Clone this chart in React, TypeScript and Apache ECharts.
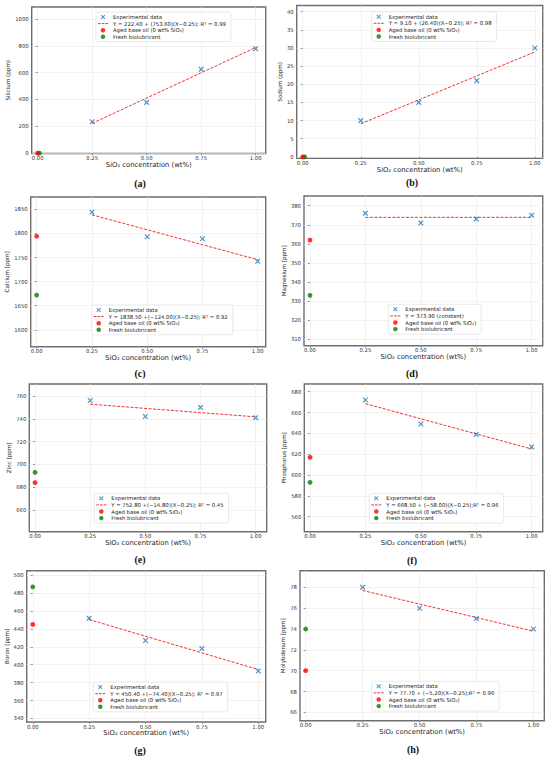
import React, { useEffect, useRef } from "react";
import * as echarts from "echarts";

// ---------- data ----------
const xExp = [0.25, 0.5, 0.75, 1.0];
const xFit = [0.25, 1.0];
const xTicks = [0, 0.25, 0.5, 0.75, 1.0];

const siliciumExp = [234, 378, 625, 779];
const sodiumExp = [10, 15, 21, 30];
const calciumExp = [1844, 1793, 1789, 1742];
const magnesiumExp = [376, 371, 373, 375];
const zincExp = [756, 742, 750, 741];
const phosphorusExp = [672, 649, 639, 627];
const boronExp = [452, 427, 418, 393];
const molybdenumExp = [78, 76, 75, 74];

const siliciumFit = [222.4, 787.6];
const sodiumFit = [9.1, 28.9];
const calciumFit = [1838.5, 1745.5];
const magnesiumFit = [373.9, 373.9];
const zincFit = [752.8, 741.7];
const phosphorusFit = [668.5, 625.0];
const boronFit = [450.4, 394.6];
const molybdenumFit = [77.7, 73.8];

// aged base oil / fresh biolubricant (Si, Na, Ca, Mg, Zn, P, B, Mo)
const agedValues = [0, 0, 1794, 362, 684, 617, 445, 70];
const freshValues = [0, 0, 1672, 333, 693, 593, 487, 74];
const agedX = [0, 0, 0, 0, 0, 0, 0, 0];
const freshX = [0.008, 0.008, 0, 0, 0, 0, 0, 0];

const yNames = [
  "Silicium (ppm)",
  "Sodium (ppm)",
  "Calcium [ppm]",
  "Magnesium [ppm]",
  "Zinc [ppm]",
  "Phosphorus [ppm]",
  "Boron [ppm]",
  "Molybdenum [ppm]",
];
const fitLabels = [
  "Y = 222.40 + (753.60)(X\u22120.25); R\u00b2 = 0.99",
  "Y = 9.10 + (26.40)(X\u22120.25); R\u00b2 = 0.98",
  "Y = 1838.50 +(\u2212124.00)(X\u22120.25); R\u00b2 = 0.92",
  "Y = 373.90 (constant)",
  "Y = 752.80 +(\u221214.80)(X\u22120.25); R\u00b2 = 0.45",
  "Y = 668.50 + (\u221258.00)(X\u22120.25);R\u00b2 = 0.96",
  "Y = 450.40 +(\u221274.40)(X\u22120.25); R\u00b2 = 0.97",
  "Y = 77.70 + (\u22125.20)(X\u22120.25);R\u00b2 = 0.96",
];
const yTickLists = [
  [0, 200, 400, 600, 800, 1000],
  [0, 5, 10, 15, 20, 25, 30, 35, 40],
  [1600, 1650, 1700, 1750, 1800, 1850],
  [310, 320, 330, 340, 350, 360, 370, 380],
  [660, 680, 700, 720, 740, 760],
  [560, 580, 600, 620, 640, 660, 680],
  [340, 360, 380, 400, 420, 440, 460, 480, 500],
  [66, 68, 70, 72, 74, 76, 78],
];
const captions = ["(a)", "(b)", "(c)", "(d)", "(e)", "(f)", "(g)", "(h)"];
const expSets = [siliciumExp, sodiumExp, calciumExp, magnesiumExp, zincExp, phosphorusExp, boronExp, molybdenumExp];
const fitSets = [siliciumFit, sodiumFit, calciumFit, magnesiumFit, zincFit, phosphorusFit, boronFit, molybdenumFit];

const EXP_NAME = "Experimental data";
const AGED_NAME = "Aged base oil (0 wt% SiO\u2082)";
const FRESH_NAME = "Fresh biolubricant";
const X_NAME = "SiO\u2082 concentration (wt%)";

// ---------- layout ----------
// [left, top, right, bottom, xMin, xMax, yMin, yMax, legendLeft, legendTop, capX, capY, xNameGap, yNameGap]
const layouts = [
  [31.7, 7, 265.7, 153.5, -0.0275, 1.046, -3, 1090, 96, 12, 140, 183, 7.2, 17],
  [296.7, 5.5, 542.7, 158.3, -0.026, 1.034, -0.4, 41.7, 371.7, 11.7, 412, 182.7, 6.4, 11.6],
  [30.7, 197, 265.7, 346.7, -0.027, 1.036, 1565, 1875.5, 91.7, 305, 140, 373, 5.4, 17.9],
  [304, 196, 542.7, 345.7, -0.027, 1.05, 306.6, 385.1, 388.3, 304.3, 412, 373, 6.4, 14.5],
  [29.3, 384, 266.7, 531.7, -0.026, 1.05, 641, 770.5, 94.3, 493.3, 140, 559.3, 8, 14.8],
  [304.3, 384, 542.7, 531.7, -0.026, 1.05, 545.6, 687.4, 369.3, 493.3, 412, 560, 8, 14.8],
  [26.7, 570.7, 265.7, 722, -0.027, 1.033, 336, 505, 93.3, 682, 140, 750.7, 6.7, 14.9],
  [300, 570.7, 544.3, 720.7, -0.025, 1.048, 65.2, 79.6, 371.7, 681.3, 413, 749.7, 8, 11.5],
];

const X_PATH =
  "path://M1.5,0L5,3.5L8.5,0L10,1.5L6.5,5L10,8.5L8.5,10L5,6.5L1.5,10L0,8.5L3.5,5L0,1.5Z";
const FONT = "DejaVu Sans";
const FIT_COLOR = "#f43030";

function buildOption() {
  const grid: any[] = [];
  const xAxis: any[] = [];
  const yAxis: any[] = [];
  const series: any[] = [];
  const legend: any[] = [];
  const graphic: any[] = [];

  layouts.forEach((L, i) => {
    const [l, t, r, b, xMin, xMax, yMin, yMax, lgL, lgT, cx, cy, xGap, yGap] = L;
    grid.push({
      left: l,
      top: t,
      width: r - l,
      height: b - t,
      show: true,
      borderColor: "#6e6e6e",
      borderWidth: 1.4,
      backgroundColor: "#ffffff",
      containLabel: false,
      outerBoundsMode: "none",
    });
    xAxis.push({
      gridIndex: i,
      type: "value",
      min: xMin,
      max: xMax,
      name: X_NAME,
      nameLocation: "middle",
      nameGap: xGap,
      nameTextStyle: { fontSize: 6.8, color: "#222", fontFamily: FONT },
      axisLine: { show: false },
      axisTick: { show: true, length: 2, customValues: xTicks, lineStyle: { color: "#555", width: 0.6 } },
      axisLabel: {
        customValues: xTicks,
        formatter: (v: number) => v.toFixed(2),
        fontSize: 5.3,
        color: "#333",
        margin: 2,
        fontFamily: FONT,
      },
      splitLine: { show: true, lineStyle: { color: "#e9e9e9", width: 0.6 } },
    });
    yAxis.push({
      gridIndex: i,
      type: "value",
      min: yMin,
      max: yMax,
      name: yNames[i],
      nameLocation: "middle",
      nameRotate: 90,
      nameGap: yGap,
      nameTextStyle: { fontSize: 5.6, color: "#222", fontFamily: FONT },
      axisLine: { show: false },
      axisTick: { show: true, length: 2, customValues: yTickLists[i], lineStyle: { color: "#555", width: 0.6 } },
      axisLabel: {
        customValues: yTickLists[i],
        formatter: (v: number) => String(v),
        fontSize: 5.3,
        color: "#333",
        margin: 3,
        fontFamily: FONT,
      },
      splitLine: { show: true, lineStyle: { color: "#e9e9e9", width: 0.6 } },
    });

    series.push({
      type: "scatter",
      name: EXP_NAME,
      xAxisIndex: i,
      yAxisIndex: i,
      data: xExp.map((x, j) => [x, expSets[i][j]]),
      symbol: X_PATH,
      symbolSize: 5.5,
      itemStyle: { color: "#1f77b4" },
      clip: false,
      z: 3,
    });
    series.push({
      type: "line",
      name: fitLabels[i],
      xAxisIndex: i,
      yAxisIndex: i,
      data: xFit.map((x, j) => [x, fitSets[i][j]]),
      symbol: "none",
      showSymbol: false,
      itemStyle: { color: FIT_COLOR },
      lineStyle: { color: FIT_COLOR, width: 1, type: [3, 1.5] },
      z: 2,
    });
    series.push({
      type: "scatter",
      name: FRESH_NAME,
      xAxisIndex: i,
      yAxisIndex: i,
      data: [[freshX[i], freshValues[i]]],
      symbol: "circle",
      symbolSize: 4.8,
      itemStyle: { color: "#008000" },
      clip: false,
      z: 3,
    });
    series.push({
      type: "scatter",
      name: AGED_NAME,
      xAxisIndex: i,
      yAxisIndex: i,
      data: [[agedX[i], agedValues[i]]],
      symbol: "circle",
      symbolSize: 4.8,
      itemStyle: { color: "#ff0000" },
      clip: false,
      z: 4,
    });

    legend.push({
      orient: "vertical",
      left: lgL,
      top: lgT,
      itemWidth: 10,
      itemHeight: 4.5,
      itemGap: 1.6,
      padding: [2.5, 5, 2.5, 1.5],
      backgroundColor: "rgba(255,255,255,0.9)",
      borderColor: "#dadada",
      borderWidth: 0.6,
      borderRadius: 2,
      selectedMode: false,
      z: 10,
      textStyle: { fontSize: 5.3, color: "#222", fontFamily: FONT },
      data: [
        { name: EXP_NAME, icon: X_PATH, itemStyle: { color: "#1f77b4", borderWidth: 0 } },
        {
          name: fitLabels[i],
          itemStyle: { color: "rgba(0,0,0,0)", borderColor: "rgba(0,0,0,0)", borderWidth: 0 },
          lineStyle: { color: FIT_COLOR, width: 1, type: [2.6, 1.1], opacity: 1 },
        },
        { name: AGED_NAME, icon: "circle", itemStyle: { color: "#ff0000", borderWidth: 0 } },
        { name: FRESH_NAME, icon: "circle", itemStyle: { color: "#008000", borderWidth: 0 } },
      ],
    });

    graphic.push({
      type: "text",
      x: cx,
      y: cy,
      style: {
        text: captions[i],
        fontSize: 10,
        fontWeight: "bold",
        fontFamily: "Liberation Serif",
        fill: "#111",
        align: "center",
        verticalAlign: "middle",
      },
    });
  });

  return {
    animation: false,
    backgroundColor: "#ffffff",
    textStyle: { fontFamily: FONT },
    grid,
    xAxis,
    yAxis,
    series,
    legend,
    graphic,
  };
}

export default function App() {
  const ref = useRef<HTMLDivElement>(null);
  useEffect(() => {
    if (!ref.current) return;
    const chart = echarts.init(ref.current, undefined, { renderer: "svg" });
    chart.setOption(buildOption());
    return () => chart.dispose();
  }, []);
  return (
    <div
      ref={ref}
      style={{ position: "absolute", left: 0, top: 0, width: 550, height: 758, background: "#fff" }}
    />
  );
}
